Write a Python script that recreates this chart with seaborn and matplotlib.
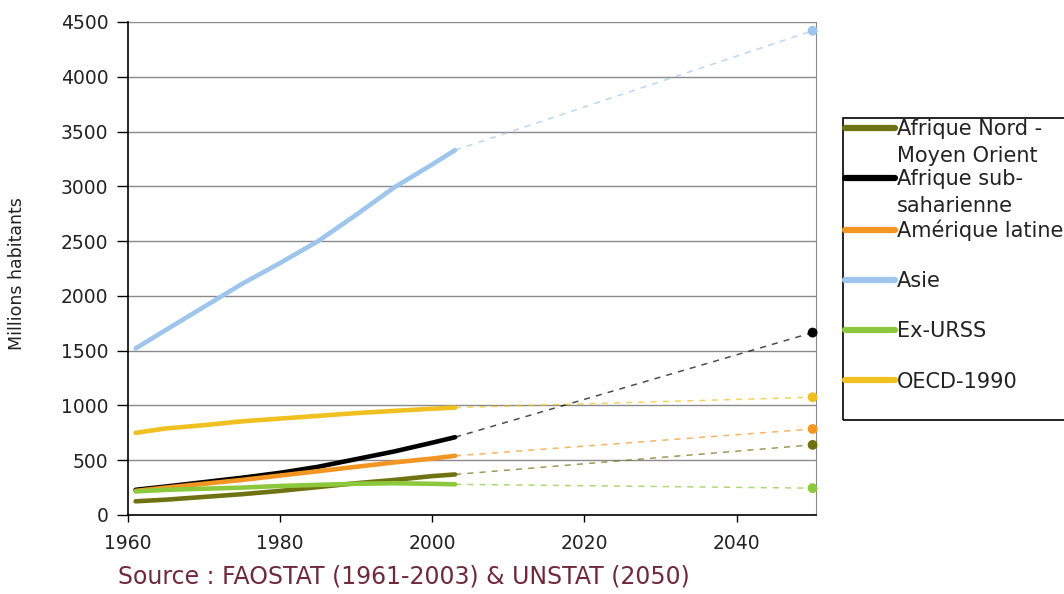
import pandas as pd
import seaborn as sns
import matplotlib.pyplot as plt
from matplotlib.lines import Line2D
from matplotlib.patches import Rectangle

# historical data (FAOSTAT), millions of inhabitants
years = [1961, 1965, 1970, 1975, 1980, 1985, 1990, 1995, 2000, 2003]
afr_nord = [125, 140, 165, 190, 220, 255, 290, 320, 355, 370]
afr_sub = [230, 260, 300, 340, 385, 440, 510, 580, 660, 710]
am_latine = [220, 250, 285, 320, 360, 400, 440, 480, 515, 540]
asie = [1520, 1690, 1900, 2110, 2300, 2500, 2740, 2990, 3200, 3330]
ex_urss = [215, 230, 240, 250, 265, 275, 285, 290, 285, 280]
oecd = [750, 790, 820, 855, 880, 905, 930, 950, 970, 980]

# projection 2050 (UNSTAT)
proj_year = 2050
regions = ['Afrique Nord -', 'Afrique sub-', 'Amérique latine', 'Asie', 'Ex-URSS', 'OECD-1990']
proj_vals = [640, 1665, 785, 4420, 245, 1075]
# second line of the long legend labels
suite = {'Afrique Nord -': 'Moyen Orient', 'Afrique sub-': 'saharienne'}

series = [afr_nord, afr_sub, am_latine, asie, ex_urss, oecd]
colors = ['#6f7210', '#000000', '#f39522', '#9ec5ec', '#8cc83c', '#f0c020']
palette = dict(zip(regions, colors))

rows = []
for r, vals in zip(regions, series):
    for y, v in zip(years, vals):
        rows.append({'annee': y, 'pop': v, 'region': r})
df = pd.DataFrame(rows)

rows = []
for r, vals, p in zip(regions, series, proj_vals):
    rows.append({'annee': years[-1], 'pop': vals[-1], 'region': r})
    rows.append({'annee': proj_year, 'pop': p, 'region': r})
dfp = pd.DataFrame(rows)

sns.set_style('white')
plt.rcParams['font.family'] = ['DejaVu Sans']

fig = plt.figure(figsize=(10.64, 5.94), dpi=100)
ax = fig.add_axes([0.1203, 0.133, 0.647, 0.83])

ax.set_axisbelow(True)
ax.yaxis.grid(True, color='#8a8a8a', linewidth=1)

sns.lineplot(data=dfp, x='annee', y='pop', hue='region', palette=palette,
             linewidth=1.1, linestyle=(0, (4, 4)), alpha=0.7, legend=False, ax=ax)
sns.lineplot(data=df, x='annee', y='pop', hue='region', palette=palette,
             linewidth=3.3, legend=False, ax=ax)
end = dfp[dfp['annee'] == proj_year]
sns.scatterplot(data=end, x='annee', y='pop', hue='region', palette=palette,
                s=50, edgecolor='none', legend=False, ax=ax, zorder=5, clip_on=False)

ax.set_xlim(1960, 2050.5)
ax.set_ylim(0, 4500)
ax.set_xticks([1960, 1980, 2000, 2020, 2040])
ax.set_yticks(range(0, 4501, 500))
ax.tick_params(axis='y', direction='out', length=8, width=1, color='black',
               labelsize=13.5, pad=6, left=True, labelcolor='#222222')
ax.tick_params(axis='x', direction='out', length=5, width=1, color='black',
               labelsize=13.5, pad=9, bottom=True, labelcolor='#222222')
ax.set_xlabel('')
ax.set_ylabel('Millions habitants', fontsize=12.5, color='#222222')
ax.yaxis.set_label_coords(-0.148, 0.49)

for s in ['left', 'bottom']:
    ax.spines[s].set_color('black')
    ax.spines[s].set_linewidth(1.2)
ax.spines['right'].set_color('#8a8a8a')
ax.spines['top'].set_visible(False)

handles = [Line2D([0], [0], color=c, linewidth=4.5) for c in colors]
leg = fig.legend(handles, regions, loc='upper left', bbox_to_anchor=(845 / 1064, 1 - 119 / 594),
                 fontsize=15, frameon=False, handlelength=2.4, handletextpad=0.1,
                 labelspacing=1.45, borderpad=0, borderaxespad=0)
for t in leg.get_texts():
    t.set_color('#222222')

# legend frame runs past the right edge of the picture, as in the original
fig.patches.append(Rectangle((843 / 1064, 1 - 420 / 594), 240 / 1064, 302 / 594,
                             transform=fig.transFigure, fill=False,
                             edgecolor='black', linewidth=1.2))

fig.canvas.draw()
inv = fig.transFigure.inverted()
for t in leg.get_texts():
    if t.get_text() in suite:
        bb = t.get_window_extent()
        x0, y0 = inv.transform((bb.x0, bb.y0))
        fig.text(x0, y0 - 0.011, suite[t.get_text()], fontsize=15, va='top', ha='left',
                 color='#222222')

fig.text(0.111, 0.018, 'Source : FAOSTAT (1961-2003) & UNSTAT (2050)',
         fontsize=17, color='#6e2a3c')

fig.savefig('out.png', dpi=100)
